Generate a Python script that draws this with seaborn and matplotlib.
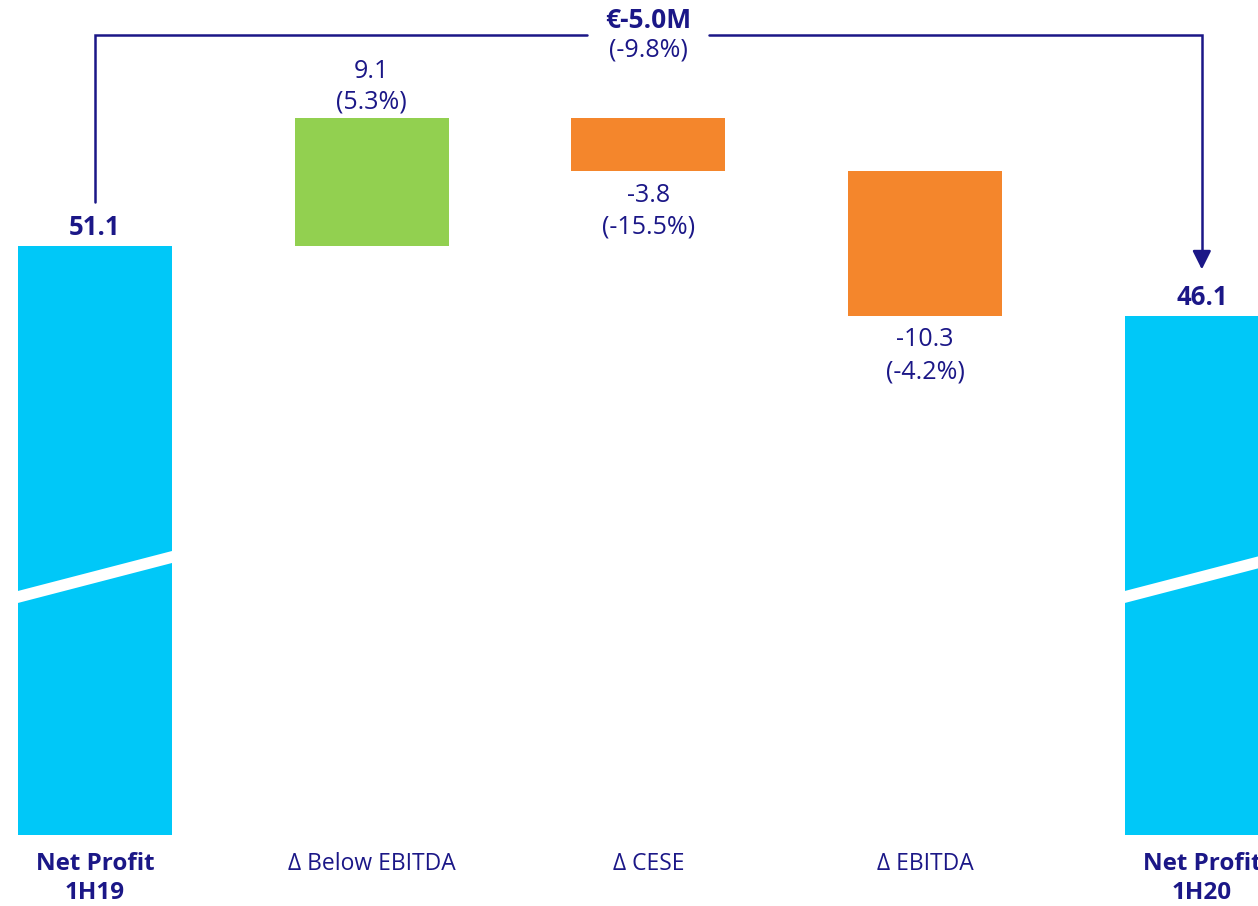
import matplotlib
matplotlib.use("Agg")
import matplotlib.pyplot as plt
import seaborn as sns
import pandas as pd

# --- data ---
categories = ["Net Profit\n1H19", "Δ Below EBITDA", "Δ CESE", "Δ EBITDA", "Net Profit\n1H20"]
start_value = 51.1
deltas = [9.1, -3.8, -10.3]
delta_pcts = ["(5.3%)", "(-15.5%)", "(-4.2%)"]
end_value = 46.1
total_change = "€-5.0M"
total_pct = "(-9.8%)"
axis_floor = 9.0      # broken axis: total bars start here
break_level = 26.0    # where the white "axis break" stripe crosses the total bars

sns.set_theme(style="white")
plt.rcParams["font.family"] = ["Open Sans", "DejaVu Sans"]

NAVY = "#1b1787"
CYAN = "#00c8f8"
GREEN = "#92d050"
ORANGE = "#f4862c"

# waterfall extents
bottoms = [axis_floor]
heights = [start_value - axis_floor]
level = start_value
for d in deltas:
    bottoms.append(level + min(d, 0))
    heights.append(abs(d))
    level += d
bottoms.append(axis_floor)
heights.append(end_value - axis_floor)
colors = [CYAN] + [GREEN if d > 0 else ORANGE for d in deltas] + [CYAN]

df = pd.DataFrame({"step": categories, "top": [b + h for b, h in zip(bottoms, heights)]})

fig = plt.figure(figsize=(12.58, 9.06), dpi=100)
ax = fig.add_axes([0, 71 / 906, 1, 835 / 906])

bar_w = 0.557
sns.barplot(data=df, x="step", y="top", hue="step", palette=colors, legend=False,
            width=bar_w, saturation=1, linewidth=0, ax=ax)
# turn the plain bars into floating waterfall bars
for patch, b, h in zip(ax.patches, bottoms, heights):
    patch.set_y(b)
    patch.set_height(h)

ax.set_xlim(-0.343, 4.203)
ax.set_ylim(axis_floor, axis_floor + 835 / 14)
sns.despine(ax=ax, left=True, bottom=True)
ax.set_yticks([])
ax.set_xlabel("")
ax.set_ylabel("")
ax.tick_params(axis="x", length=0, pad=12)
ax.set_xticks(range(len(categories)))
ax.set_xticklabels(categories, fontsize=16.5, color=NAVY, linespacing=1.3)
for i, lab in enumerate(ax.get_xticklabels()):
    if i in (0, len(categories) - 1):
        lab.set_fontweight("bold")
        lab.set_fontsize(17.5)

# axis-break stripes on the two total bars
slope = (40 / 14) / bar_w
thick = 12 / 14
for i in (0, len(categories) - 1):
    x0, x1 = i - bar_w / 2 - 0.02, i + bar_w / 2 + 0.02
    y0 = break_level - slope * 0.02
    y1 = y0 + slope * (x1 - x0)
    ax.fill([x0, x1, x1, x0], [y0 - thick / 2, y1 - thick / 2, y1 + thick / 2, y0 + thick / 2],
            color="white", lw=0, zorder=3)

# value labels
for i, v in ((0, start_value), (len(categories) - 1, end_value)):
    ax.text(i, v + 0.3, f"{v:.1f}", ha="center", va="bottom",
            fontsize=18.5, fontweight="bold", color=NAVY)
for i, (d, pct) in enumerate(zip(deltas, delta_pcts), start=1):
    txt = f"{d:.1f}\n{pct}"
    if d > 0:
        ax.text(i, bottoms[i] + heights[i] + 0.25, txt, ha="center", va="bottom",
                fontsize=18, color=NAVY, linespacing=1.3)
    else:
        ax.text(i, bottoms[i] - 0.85, txt, ha="center", va="top",
                fontsize=18, color=NAVY, linespacing=1.35)

# overall change connector
conn_y = start_value + 211 / 14
gap = 0.22
ax.plot([0, 0, 2 - gap], [start_value + 44 / 14, conn_y, conn_y], color=NAVY, lw=1.8,
        solid_joinstyle="miter")
ax.plot([2 + gap, 4, 4], [conn_y, conn_y, end_value + 4.0], color=NAVY, lw=1.8,
        solid_joinstyle="miter")
ax.annotate("", xy=(4, end_value + 3.3), xytext=(4, end_value + 4.5),
            arrowprops=dict(arrowstyle="-|>", color=NAVY, lw=1.8, mutation_scale=28,
                            shrinkA=0, shrinkB=0))
ax.text(2, conn_y + 1.0, total_change, ha="center", va="center", fontsize=19,
        fontweight="bold", color=NAVY)
ax.text(2, conn_y - 1.1, total_pct, ha="center", va="center", fontsize=18, color=NAVY)

fig.savefig("out.png", dpi=100)
